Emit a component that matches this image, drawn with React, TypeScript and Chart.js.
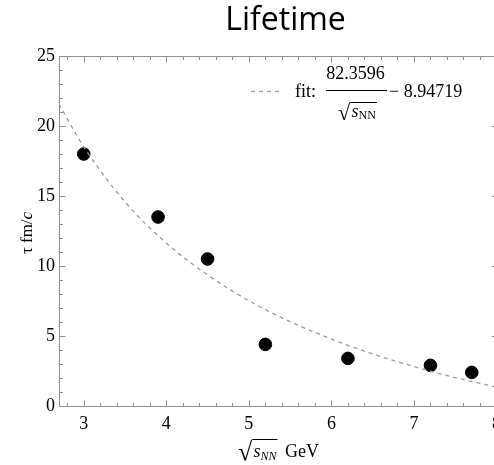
import React, { useEffect, useRef } from "react";
import { Chart, registerables } from "chart.js";

Chart.register(...registerables);

// ---- data ----
const X_VALUES = [3, 3.9, 4.5, 5.2, 6.2, 7.2, 7.7];
const TAU_VALUES = [18, 13.5, 10.5, 4.4, 3.4, 2.9, 2.4];
// fit curve 82.3596/sqrt(s_NN) - 8.94719, sampled along the plotted dashed line
const FIT_X = [2.7, 3.0, 3.5, 4.0, 4.5, 5.0, 5.5, 6.0, 6.5, 7.0, 7.5, 8.0];
const FIT_TAU = [21.56, 18.51, 14.58, 11.64, 9.36, 7.52, 6.03, 4.78, 3.72, 2.82, 2.03, 1.35];
const X_TICKS = [3, 4, 5, 6, 7, 8];
const Y_TICKS = [0, 5, 10, 15, 20, 25];
const TITLE = "Lifetime";
const FIT_NUM = "82.3596";
const FIT_CONST = "8.94719";

const SERIF = '"Liberation Serif", "Times New Roman", serif';
const FRAME = "#8f8f8f";

type Part = { text: string; font: string; dy?: number };

function drawParts(ctx: CanvasRenderingContext2D, parts: Part[], x: number, base: number) {
  let cx = x;
  ctx.textAlign = "left";
  ctx.textBaseline = "alphabetic";
  for (const p of parts) {
    ctx.font = p.font;
    ctx.fillText(p.text, cx, base + (p.dy || 0));
    cx += ctx.measureText(p.text).width;
  }
  return cx;
}
function partsWidth(ctx: CanvasRenderingContext2D, parts: Part[]) {
  let w = 0;
  for (const p of parts) {
    ctx.font = p.font;
    w += ctx.measureText(p.text).width;
  }
  return w;
}
// radical sign glyph scaled to span [top, bottom], then radicand with an overline
function drawRadical(
  ctx: CanvasRenderingContext2D,
  x: number,
  top: number,
  bottom: number,
  parts: Part[],
  base: number
) {
  ctx.textAlign = "left";
  ctx.textBaseline = "alphabetic";
  ctx.font = `100px ${SERIF}`;
  const m0 = ctx.measureText("\u221A");
  const h0 = m0.actualBoundingBoxAscent + m0.actualBoundingBoxDescent;
  const size = (100 * (bottom - top)) / h0;
  ctx.font = `${size.toFixed(2)}px ${SERIF}`;
  const m = ctx.measureText("\u221A");
  const gx = x + m.actualBoundingBoxLeft;
  const gBase = top + m.actualBoundingBoxAscent;
  ctx.fillText("\u221A", gx, gBase);
  const right = gx + m.actualBoundingBoxRight;
  const end = drawParts(ctx, parts, right + 0.5, base);
  ctx.lineWidth = 1;
  ctx.beginPath();
  ctx.moveTo(right - 0.8, top + 0.5);
  ctx.lineTo(end + 1, top + 0.5);
  ctx.stroke();
  return end;
}

const decorPlugin = {
  id: "decor",
  afterDraw(chart: any) {
    const ctx: CanvasRenderingContext2D = chart.ctx;
    const { left, right, top, bottom } = chart.chartArea;
    const xs = chart.scales.x;
    const ys = chart.scales.y;
    ctx.save();
    // frame
    ctx.strokeStyle = FRAME;
    ctx.lineWidth = 1;
    const L = Math.round(left) + 0.5,
      R = Math.round(right) + 0.5,
      T = Math.round(top) + 0.5,
      B = Math.round(bottom) + 0.5;
    ctx.strokeRect(L, T, R - L, B - T);
    // ticks on all four sides, pointing inward
    ctx.beginPath();
    for (let i = 14; i <= 40; i++) {
      const v = i / 5;
      if (v < xs.min || v > xs.max) continue;
      const major = X_TICKS.includes(v);
      const len = major ? 6 : 3.5;
      const px = Math.round(xs.getPixelForValue(v)) + 0.5;
      ctx.moveTo(px, B);
      ctx.lineTo(px, B - len);
      ctx.moveTo(px, T);
      ctx.lineTo(px, T + len);
    }
    for (let v = 0; v <= 25; v++) {
      const major = Y_TICKS.includes(v);
      const len = major ? 6 : 3.5;
      const py = Math.round(ys.getPixelForValue(v)) + 0.5;
      ctx.moveTo(L, py);
      ctx.lineTo(L + len, py);
      ctx.moveTo(R, py);
      ctx.lineTo(R - len, py);
    }
    ctx.stroke();

    // title
    ctx.fillStyle = "#000";
    ctx.font = `32px "Open Sans", sans-serif`;
    ctx.textAlign = "center";
    ctx.textBaseline = "alphabetic";
    ctx.fillText(TITLE, 285.5, 29.5);

    ctx.strokeStyle = "#000";
    // x axis title: sqrt(s_NN) GeV
    const xEnd = drawRadical(
      ctx,
      238,
      439,
      460,
      [
        { text: "s", font: `italic 18px ${SERIF}` },
        { text: "NN", font: `italic 12px ${SERIF}`, dy: 3 },
      ],
      457
    );
    drawParts(ctx, [{ text: "GeV", font: `18px ${SERIF}` }], Math.max(xEnd + 7, 285), 457);

    // y axis title: tau fm/c
    ctx.save();
    ctx.translate(32, (top + bottom) / 2 + 2);
    ctx.rotate(-Math.PI / 2);
    const yParts: Part[] = [
      { text: "\u03C4 fm/", font: `17px ${SERIF}` },
      { text: "c", font: `italic 17px ${SERIF}` },
    ];
    const wY = partsWidth(ctx, yParts);
    drawParts(ctx, yParts, -wY / 2, 0);
    ctx.restore();

    // legend
    ctx.strokeStyle = "#999";
    ctx.lineWidth = 1.3;
    ctx.setLineDash([4, 4]);
    ctx.beginPath();
    ctx.moveTo(251, 91.5);
    ctx.lineTo(283, 91.5);
    ctx.stroke();
    ctx.setLineDash([]);
    drawParts(ctx, [{ text: "fit:", font: `18px ${SERIF}` }], 295, 97);
    // numerator
    ctx.font = `18px ${SERIF}`;
    const numW = ctx.measureText(FIT_NUM).width;
    const fracC = 355.5;
    ctx.textAlign = "left";
    ctx.fillText(FIT_NUM, fracC - numW / 2, 79);
    ctx.strokeStyle = "#000";
    ctx.lineWidth = 1;
    ctx.beginPath();
    ctx.moveTo(326, 90.5);
    ctx.lineTo(387, 90.5);
    ctx.stroke();
    // denominator
    drawRadical(
      ctx,
      338,
      102,
      120,
      [
        { text: "s", font: `italic 18px ${SERIF}` },
        { text: "NN", font: `12px ${SERIF}`, dy: 2 },
      ],
      117
    );
    drawParts(ctx, [{ text: "\u2212 " + FIT_CONST, font: `18px ${SERIF}` }], 389, 97);

    ctx.restore();
  },
};

export default function App() {
  const ref = useRef<HTMLCanvasElement | null>(null);
  useEffect(() => {
    document.body.style.overflow = "hidden";
    const canvas = ref.current!;
    const points = X_VALUES.map((x, i) => ({ x, y: TAU_VALUES[i] }));
    const fit = FIT_X.map((x, i) => ({ x, y: FIT_TAU[i] }));
    const chart = new Chart(canvas, {
      type: "scatter",
      data: {
        datasets: [
          {
            label: "fit",
            data: fit,
            showLine: true,
            borderColor: "#9a9a9a",
            borderWidth: 1.3,
            borderDash: [4, 4],
            pointRadius: 0,
            cubicInterpolationMode: "monotone",
            fill: false,
          } as any,
          {
            label: "tau",
            data: points,
            backgroundColor: "#000",
            borderColor: "#000",
            pointRadius: 6.3,
            pointHoverRadius: 6.3,
          },
        ],
      },
      plugins: [decorPlugin],
      options: {
        responsive: false,
        animation: false,
        events: [],
        layout: { padding: { left: 0, right: 77.5, top: 56, bottom: 0 } },
        plugins: {
          legend: { display: false },
          tooltip: { enabled: false },
          title: { display: false },
        },
        scales: {
          x: {
            type: "linear",
            min: 2.7,
            max: 8,
            grid: { display: false, drawTicks: false },
            border: { display: false },
            ticks: {
              stepSize: 1,
              includeBounds: false,
              padding: 7,
              color: "#000",
              font: { family: SERIF, size: 18 },
              maxRotation: 0,
            },
            afterFit: (s: any) => {
              s.height = 59;
            },
          },
          y: {
            type: "linear",
            min: 0,
            max: 25,
            grid: { display: false, drawTicks: false },
            border: { display: false },
            ticks: {
              stepSize: 5,
              padding: 4,
              color: "#000",
              font: { family: SERIF, size: 18 },
            },
            afterFit: (s: any) => {
              s.width = 59;
            },
          },
        },
      },
    });
    return () => chart.destroy();
  }, []);
  return (
    <div style={{ position: "absolute", left: 0, top: 0, width: 574, height: 465 }}>
      <canvas ref={ref} width={574} height={465} />
    </div>
  );
}
